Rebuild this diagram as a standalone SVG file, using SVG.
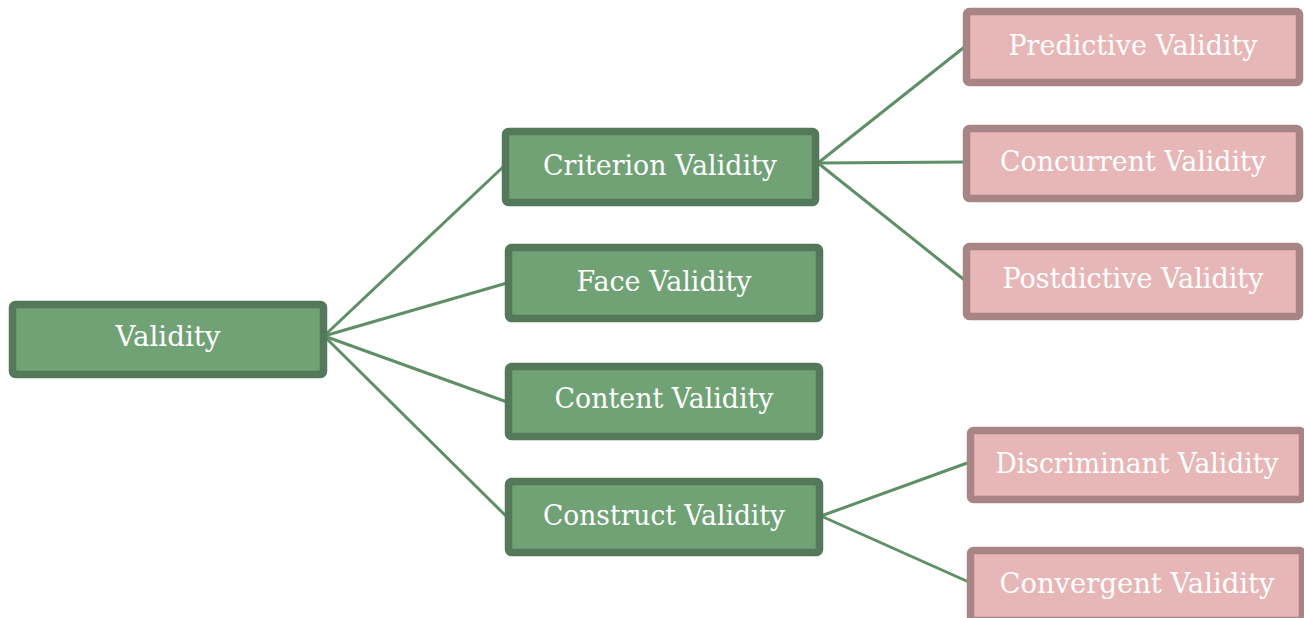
<svg xmlns="http://www.w3.org/2000/svg" width="1304" height="618" viewBox="0 0 1304 618">
<style>
.g rect{fill:#70a276;stroke:#54795a;stroke-width:7.5}
.p rect{fill:#e7b6b6;stroke:#a88484;stroke-width:7.5}
text{font-family:"DejaVu Serif","Liberation Serif",serif;font-size:28.5px;fill:#ffffff;text-anchor:middle}
#connectors line{stroke:#5e8f65;stroke-width:3;fill:none}
</style>
<rect width="1304" height="618" fill="#ffffff"/>
<g id="connectors">
<line x1="324" y1="336" x2="503" y2="167"/>
<line x1="324" y1="336" x2="507" y2="283"/>
<line x1="324" y1="336" x2="507" y2="402"/>
<line x1="324" y1="336" x2="506" y2="516"/>
<line x1="818" y1="163" x2="967" y2="45"/>
<line x1="818" y1="163" x2="967" y2="162"/>
<line x1="818" y1="163" x2="967" y2="282"/>
<line x1="821" y1="516" x2="970" y2="462"/>
<line x1="821" y1="516" x2="971" y2="583"/>
</g>
<g id="validity" class="g"><rect x="12.5" y="304.5" width="311" height="70" rx="3"/><text x="168" y="346" textLength="105" lengthAdjust="spacingAndGlyphs">Validity</text></g>
<g id="criterion" class="g"><rect x="505.5" y="131.5" width="310" height="71" rx="3"/><text x="660" y="175" textLength="234" lengthAdjust="spacingAndGlyphs">Criterion Validity</text></g>
<g id="face" class="g"><rect x="508.5" y="247.5" width="311" height="71" rx="3"/><text x="664" y="291" textLength="175" lengthAdjust="spacingAndGlyphs">Face Validity</text></g>
<g id="content" class="g"><rect x="508.5" y="366.5" width="311" height="70" rx="3"/><text x="664" y="408" textLength="219" lengthAdjust="spacingAndGlyphs">Content Validity</text></g>
<g id="construct" class="g"><rect x="508.5" y="481.5" width="311" height="71" rx="3"/><text x="664" y="525" textLength="242" lengthAdjust="spacingAndGlyphs">Construct Validity</text></g>
<g id="predictive" class="p"><rect x="966.5" y="11.5" width="333" height="71" rx="3"/><text x="1133" y="55" textLength="249" lengthAdjust="spacingAndGlyphs">Predictive Validity</text></g>
<g id="concurrent" class="p"><rect x="966.5" y="128.5" width="333" height="70" rx="3"/><text x="1133" y="171" textLength="266" lengthAdjust="spacingAndGlyphs">Concurrent Validity</text></g>
<g id="postdictive" class="p"><rect x="966.5" y="246.5" width="333" height="70" rx="3"/><text x="1133" y="288" textLength="261" lengthAdjust="spacingAndGlyphs">Postdictive Validity</text></g>
<g id="discriminant" class="p"><rect x="970.5" y="430.5" width="332" height="69" rx="3"/><text x="1137" y="473" textLength="283" lengthAdjust="spacingAndGlyphs">Discriminant Validity</text></g>
<g id="convergent" class="p"><rect x="970.5" y="550.5" width="332" height="70" rx="3"/><text x="1137" y="593" textLength="275" lengthAdjust="spacingAndGlyphs">Convergent Validity</text></g>
</svg>
